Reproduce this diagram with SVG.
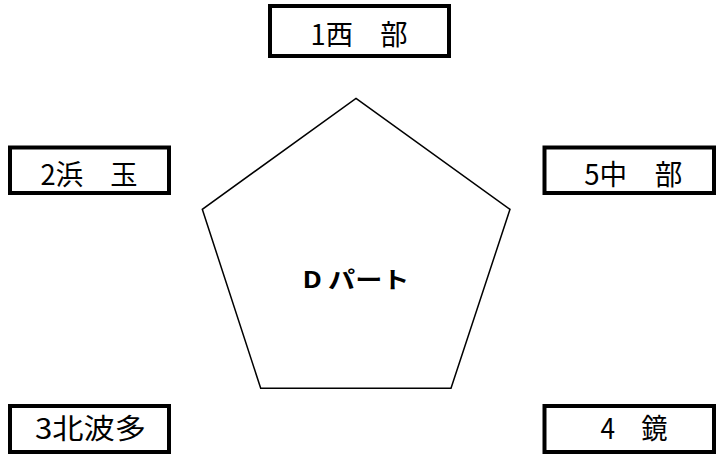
<svg xmlns="http://www.w3.org/2000/svg" width="716" height="456" viewBox="0 0 716 456">
<style>
.box{fill:#fff;stroke:#000;stroke-width:4}
.lbl{font-family:"Noto Sans CJK JP","Noto Sans",sans-serif;font-size:28px;fill:#000;text-anchor:middle;dominant-baseline:central}
.pent{fill:#fff;stroke:#000;stroke-width:1.5;stroke-linejoin:miter}
.center{font-family:"Noto Sans CJK JP","Noto Sans",sans-serif;font-size:23px;font-weight:bold;fill:#000;text-anchor:middle;dominant-baseline:central}
</style>
<rect width="716" height="456" fill="#fff"/>
<g id="connectors"></g>
<g id="node-center">
<polygon class="pent" points="356,98.3 510,209.3 451,388.3 260.7,388.3 202.3,209.3"/>
<text class="center" x="356" y="278" textLength="107" lengthAdjust="spacingAndGlyphs">D パート</text>
</g>
<g id="node-1">
<rect class="box" x="270" y="6" width="179" height="50"/>
<text class="lbl" x="359" y="32.5" textLength="97" lengthAdjust="spacingAndGlyphs">1西　部</text>
</g>
<g id="node-2">
<rect class="box" x="10" y="147.5" width="159" height="45.5"/>
<text class="lbl" x="89" y="172.5" textLength="97" lengthAdjust="spacingAndGlyphs">2浜　玉</text>
</g>
<g id="node-5">
<rect class="box" x="544.5" y="147.5" width="169.5" height="45.5"/>
<text class="lbl" x="633.3" y="172.5" textLength="98" lengthAdjust="spacingAndGlyphs">5中　部</text>
</g>
<g id="node-3">
<rect class="box" x="10" y="406" width="159" height="46"/>
<text class="lbl" x="90.5" y="426.7" textLength="111" lengthAdjust="spacingAndGlyphs">3北波多</text>
</g>
<g id="node-4">
<rect class="box" x="544.5" y="406" width="169.5" height="46"/>
<text class="lbl" x="634" y="427" textLength="67" lengthAdjust="spacingAndGlyphs">4　鏡</text>
</g>
</svg>
